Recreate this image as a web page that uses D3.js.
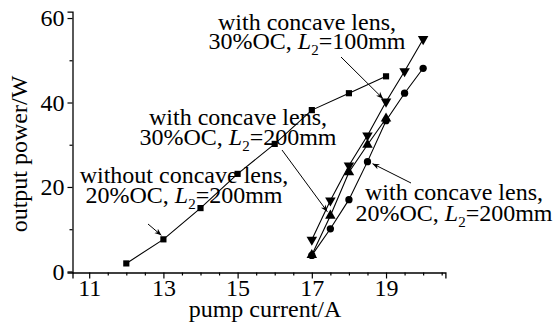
<!DOCTYPE html>
<html>
<head>
<meta charset="utf-8">
<script src="https://cdn.jsdelivr.net/npm/d3@7"></script>
<style>
  html, body { margin: 0; padding: 0; background: #fff; }
  svg text { font-family: "Liberation Serif", "Times New Roman", serif; fill: #000; }
</style>
</head>
<body>
<svg id="chart" width="555" height="324"></svg>
<script>
// data
const currentNoLens = [12, 13, 14, 15, 16, 17, 18, 19];
const powerNoLens = [1.9, 7.6, 15.0, 23.1, 30.2, 38.2, 42.2, 46.2];

const currentLens = [17, 17.5, 18, 18.5, 19, 19.5, 20];
const power30OC100 = [7.5, 16.8, 25.1, 32.2, 40.2, 47.4, 55.0];
const power20OC200 = [3.8, 10.1, 17.0, 26.0, 35.7, 42.2, 48.1];

const currentLens30 = [17, 17.5, 18, 18.5, 19];
const power30OC200 = [3.9, 13.2, 23.5, 30.0, 36.2];

const xMajorTicks = [11, 13, 15, 17, 19];
const xMinorTicks = [11.5, 12, 12.5, 13.5, 14, 14.5, 15.5, 16, 16.5, 17.5, 18, 18.5, 19.5, 20, 20.5];
const yMajorTicks = [0, 20, 40, 60];
const yMinorTicks = [10, 30, 50];

const xTitle = "pump current/A";
const yTitle = "output power/W";

const svg = d3.select("#chart");

const x = d3.scaleLinear().domain([10.55, 20.6]).range([72.5, 445.4]);
const y = d3.scaleLinear().domain([-0.25, 61.5]).range([272.5, 11.7]);

const fontSize = 24;
const serif = "'Liberation Serif', 'Times New Roman', serif";

// axes
const xAxis = svg.append("g").attr("transform", `translate(0,${y(-0.25)})`);
xAxis.call(d3.axisBottom(x).tickValues(xMajorTicks).tickSize(6).tickPadding(3)
  .tickFormat(d3.format("d")));
xAxis.append("g").call(d3.axisBottom(x).tickValues(xMinorTicks).tickSize(3).tickFormat(""))
  .select(".domain").remove();

const yAxis = svg.append("g").attr("transform", `translate(${x(10.55)},0)`);
yAxis.call(d3.axisLeft(y).tickValues(yMajorTicks).tickSize(5).tickPadding(3)
  .tickFormat(d3.format("d")));
yAxis.append("g").call(d3.axisLeft(y).tickValues(yMinorTicks).tickSize(3).tickFormat(""))
  .select(".domain").remove();

svg.selectAll(".domain").attr("stroke", "#000").attr("stroke-width", 1.3);
svg.selectAll(".tick line").attr("stroke", "#000").attr("stroke-width", 1.2);
svg.selectAll(".tick text")
  .style("font-family", serif)
  .style("font-size", fontSize + "px")
  .attr("fill", "#000");
xAxis.selectAll(".tick text").attr("dy", "0.62em");

svg.append("text")
  .attr("x", 265).attr("y", 317)
  .attr("text-anchor", "middle")
  .style("font-family", serif)
  .style("font-size", fontSize + "px")
  .text(xTitle);

svg.append("text")
  .attr("transform", "translate(27,154) rotate(-90)")
  .attr("text-anchor", "middle")
  .style("font-family", serif)
  .style("font-size", fontSize + "px")
  .text(yTitle);

// series
const line = d3.line().x(d => x(d[0])).y(d => y(d[1]));

function drawSeries(xs, ys, symbolType, size, rotate) {
  const pts = xs.map((v, i) => [v, ys[i]]);
  svg.append("path")
    .datum(pts)
    .attr("fill", "none")
    .attr("stroke", "#000")
    .attr("stroke-width", 1.1)
    .attr("d", line);
  svg.append("g").selectAll("path")
    .data(pts)
    .join("path")
    .attr("d", d3.symbol().type(symbolType).size(size))
    .attr("transform", d => `translate(${x(d[0])},${y(d[1])}) rotate(${rotate})`)
    .attr("fill", "#000");
}

drawSeries(currentNoLens, powerNoLens, d3.symbolSquare, 38, 0);
drawSeries(currentLens30, power30OC200, d3.symbolTriangle, 48, 0);
drawSeries(currentLens, power30OC100, d3.symbolTriangle, 48, 180);
drawSeries(currentLens, power20OC200, d3.symbolCircle, 42, 0);

// annotations
svg.append("defs").append("marker")
  .attr("id", "arrow")
  .attr("viewBox", "0 0 10 10")
  .attr("refX", 10).attr("refY", 5)
  .attr("markerWidth", 7).attr("markerHeight", 7)
  .attr("markerUnits", "userSpaceOnUse")
  .attr("orient", "auto")
  .append("path")
  .attr("d", "M0,1 L10,5 L0,9 L3,5 Z")
  .attr("fill", "#000");

const notes = [
  { line1: "with concave lens,", pre: "30%OC, ", post: "=100mm",
    cx: 307, y1: 29.5, y2: 49, from: [341, 57], to: [19, 40.2], off: [-3, -3] },
  { line1: "with concave lens,", pre: "30%OC, ", post: "=200mm",
    cx: 238, y1: 125, y2: 145, from: [282, 150], to: [17.5, 13.2], off: [-3, -4] },
  { line1: "without concave lens,", pre: "20%OC, ", post: "=200mm",
    cx: 184, y1: 183, y2: 203, from: [148, 224], to: [13, 7.6], off: [-2, -4] },
  { line1: "with concave lens,", pre: "20%OC, ", post: "=200mm",
    cx: 454, y1: 200, y2: 220.5, from: [411, 183], to: [18.5, 26.0], off: [5, 2] }
];

notes.forEach(n => {
  svg.append("text")
    .attr("x", n.cx).attr("y", n.y1)
    .attr("text-anchor", "middle")
    .style("font-family", serif)
    .style("font-size", fontSize + "px")
    .text(n.line1);

  const t = svg.append("text")
    .attr("x", n.cx).attr("y", n.y2)
    .attr("text-anchor", "middle")
    .style("font-family", serif)
    .style("font-size", fontSize + "px");
  t.append("tspan").text(n.pre);
  t.append("tspan").attr("font-style", "italic").text("L");
  t.append("tspan").attr("dy", 6).style("font-size", "15px").text("2");
  t.append("tspan").attr("dy", -6).text(n.post);

  svg.append("line")
    .attr("x1", n.from[0]).attr("y1", n.from[1])
    .attr("x2", x(n.to[0]) + n.off[0]).attr("y2", y(n.to[1]) + n.off[1])
    .attr("stroke", "#000")
    .attr("stroke-width", 1)
    .attr("marker-end", "url(#arrow)");
});
</script>
</body>
</html>
